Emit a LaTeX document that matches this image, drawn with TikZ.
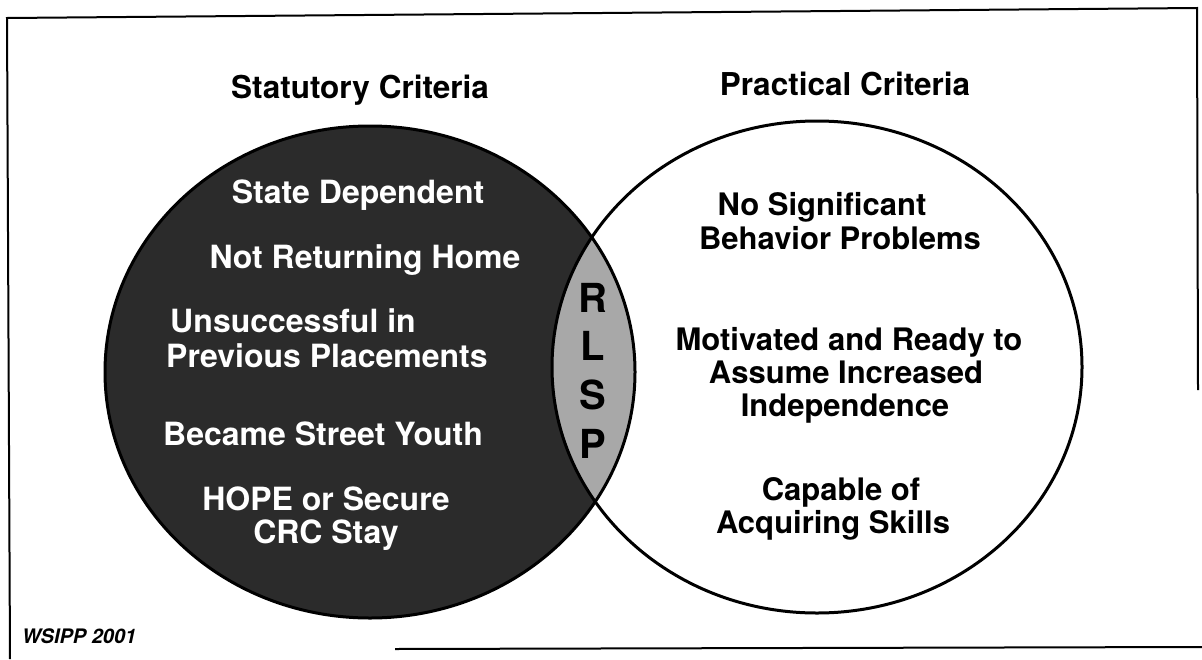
\documentclass[tikz,border=0pt]{standalone}
\usepackage{fontspec}
\setmainfont{TeX Gyre Heros}
\definecolor{darkfill}{gray}{0.17}
\definecolor{lensfill}{gray}{0.66}
\newcommand\bodyfont{\fontsize{31}{34}\selectfont\bfseries}
\newcommand\lbodyfont{\fontsize{32}{34}\selectfont\bfseries}
\newcommand\titlefont{\fontsize{31.5}{34}\selectfont\bfseries}
\newcommand\rlspfont{\fontsize{40}{40}\selectfont\bfseries}
\newcommand\notefont{\fontsize{20}{22}\selectfont\itshape}
\begin{document}
\begin{tikzpicture}[x=1pt,y=-1pt,
  frameline/.style={line width=2pt,black},
  ringline/.style={line width=3pt,black},
  lefttxt/.style={text=white,font=\lbodyfont,inner sep=0pt},
  righttxt/.style={text=black,font=\bodyfont,inner sep=0pt},
  titletxt/.style={text=black,font=\titlefont,inner sep=0pt},
  rlsptxt/.style={text=black,font=\rlspfont,inner sep=0pt},
  notetxt/.style={text=black,font=\notefont,inner sep=0pt}]
\useasboundingbox (0,0) rectangle (1202,659);
\fill[white] (0,0) rectangle (1202,659);
% frame
\coordinate (fTL) at (7,18);
\coordinate (fTR) at (1197,8);
\coordinate (fRB) at (1198,390);
\coordinate (fBL) at (10,659);
\coordinate (bL) at (395,649);
\coordinate (bR) at (1202,647);
\draw[frameline] (fBL) -- (fTL) -- (fTR) -- (fRB);
\draw[frameline] (bL) -- (bR);
% circles
\fill[darkfill] (370,372) ellipse [x radius=265, y radius=246];
\begin{scope}
  \clip (370,372) ellipse [x radius=265, y radius=246];
  \fill[lensfill] (817,367) ellipse [x radius=265, y radius=246];
\end{scope}
\draw[ringline] (370,372) ellipse [x radius=265, y radius=246];
\draw[ringline] (817,367) ellipse [x radius=265, y radius=246];
% titles
\node[titletxt,anchor=base] (tstat) at (360,98) {Statutory Criteria};
\node[titletxt,anchor=base] (tprac) at (845,95) {Practical Criteria};
% left texts
\node[lefttxt,anchor=base] (l1) at (358,203) {State Dependent};
\node[lefttxt,anchor=base] (l2) at (365,268) {Not Returning Home};
\node[lefttxt,anchor=base west] (l3a) at (170,332) {Unsuccessful in};
\node[lefttxt,anchor=base west] (l3b) at (166,367) {Previous Placements};
\node[lefttxt,anchor=base west] (l4) at (163,445) {Became Street Youth};
\node[lefttxt,anchor=base] (l5a) at (326,510) {HOPE or Secure};
\node[lefttxt,anchor=base] (l5b) at (326,543) {CRC Stay};
% right texts
\node[righttxt,anchor=base] (r1a) at (822,215) {No Significant};
\node[righttxt,anchor=base] (r1b) at (840,249) {Behavior Problems};
\node[righttxt,anchor=base] (r2a) at (849,350) {Motivated and Ready to};
\node[righttxt,anchor=base] (r2b) at (846,383) {Assume Increased};
\node[righttxt,anchor=base] (r2c) at (845,416) {Independence};
\node[righttxt,anchor=base] (r3a) at (841,500) {Capable of};
\node[righttxt,anchor=base] (r3b) at (833,533) {Acquiring Skills};
% RLSP
\node[rlsptxt,anchor=base] (sR) at (593,312) {R};
\node[rlsptxt,anchor=base] (sL) at (593,360) {L};
\node[rlsptxt,anchor=base] (sS) at (593,409) {S};
\node[rlsptxt,anchor=base] (sP) at (593,458) {P};
% note
\node[notetxt,anchor=base west] (note) at (22,643) {\bfseries WSIPP 2001};
\end{tikzpicture}
\end{document}
